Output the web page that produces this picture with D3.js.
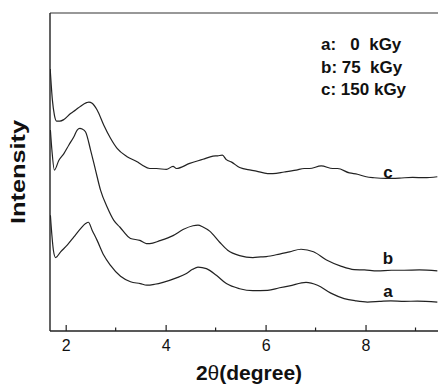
<!DOCTYPE html>
<html>
<head>
<meta charset="utf-8">
<script src="https://cdn.jsdelivr.net/npm/d3@7"></script>
<style>
  body { margin: 0; background: #fff; }
  svg { display: block; font-family: "Liberation Sans", Arial, sans-serif; }
  .axis path, .axis line { stroke: #222; }
  .trace { fill: none; stroke: #222; stroke-width: 1.2; }
</style>
</head>
<body>
<div id="chart"></div>
<script>
// ------------------------------------------
//  Data
// ------------------------------------------
const seriesKeys = ['a', 'b', 'c']
const legendLabels = ['a:   0  kGy', 'b: 75  kGy', 'c: 150 kGy']
const xTicks = [2, 4, 6, 8]
const xMinorTicks = [3, 5, 7, 9]

// 2theta (degree), intensity (a.u., curves stacked)
const curveA = [
  [1.694, 36.4], [1.724, 30.1], [1.754, 25.4], [1.798, 23.1], [1.898, 24.9], [2.030, 27.0],
  [2.164, 29.6], [2.298, 32.2], [2.398, 33.8], [2.454, 34.2], [2.529, 31.7], [2.629, 28.5],
  [2.763, 23.8], [2.893, 20.7], [3.097, 17.2], [3.297, 15.5], [3.493, 14.9], [3.622, 14.4],
  [3.782, 14.7], [3.948, 15.3], [4.216, 16.7], [4.416, 18.1], [4.541, 19.4], [4.647, 20.1],
  [4.815, 19.6], [5.015, 17.5], [5.215, 14.9], [5.481, 13.3], [5.746, 12.7], [6.040, 12.8],
  [6.280, 13.6], [6.480, 14.2], [6.809, 15.3], [7.039, 14.4], [7.305, 11.9], [7.572, 10.2],
  [7.798, 9.5], [8.038, 9.1], [8.278, 9.3], [8.504, 9.5], [8.777, 9.3], [9.037, 9.4], [9.437, 9.1]
]
const curveB = [
  [1.694, 63.2], [1.724, 56.9], [1.774, 50.6], [1.864, 53.7], [1.964, 55.8], [2.064, 58.5],
  [2.164, 61.1], [2.230, 63.2], [2.284, 63.7], [2.330, 63.5], [2.398, 62.6], [2.498, 56.9],
  [2.597, 50.6], [2.697, 44.3], [2.829, 39.0], [2.963, 34.8], [3.083, 32.7], [3.297, 29.1],
  [3.483, 28.5], [3.616, 27.5], [3.682, 27.5], [3.882, 28.4], [4.148, 30.0], [4.348, 31.9],
  [4.547, 33.1], [4.647, 33.3], [4.747, 32.7], [4.881, 31.4], [5.081, 27.9], [5.241, 25.4],
  [5.481, 23.7], [5.746, 23.1], [5.906, 23.3], [6.014, 23.4], [6.280, 24.2], [6.480, 24.9],
  [6.709, 25.7], [6.959, 24.9], [7.219, 22.3], [7.505, 20.4], [7.772, 19.3], [7.978, 19.2],
  [8.238, 18.9], [8.518, 19.1], [8.771, 19.1], [9.077, 19.2], [9.437, 18.9]
]
const curveC = [
  [1.690, 82.4], [1.734, 72.6], [1.774, 67.9], [1.818, 66.0], [1.884, 66.0], [1.964, 66.5],
  [2.098, 68.4], [2.198, 69.5], [2.298, 70.7], [2.418, 71.8], [2.464, 72.0], [2.529, 71.6],
  [2.629, 69.5], [2.763, 64.7], [2.897, 60.6], [3.029, 57.4], [3.229, 54.8], [3.429, 53.2],
  [3.528, 52.2], [3.682, 51.1], [3.816, 51.1], [4.016, 50.8], [4.148, 51.8], [4.216, 51.1],
  [4.481, 52.7], [4.747, 54.0], [4.947, 55.0], [5.041, 55.1], [5.135, 55.3], [5.215, 53.9],
  [5.321, 53.1], [5.481, 51.4], [5.706, 50.6], [5.814, 50.3], [6.040, 49.5], [6.146, 49.5],
  [6.374, 50.0], [6.613, 50.6], [6.773, 51.1], [6.879, 51.1], [7.113, 51.9], [7.345, 51.1],
  [7.439, 51.1], [7.678, 49.7], [7.838, 49.3], [8.012, 48.5], [8.172, 48.2], [8.412, 48.0],
  [8.677, 48.1], [8.943, 48.3], [9.177, 48.2], [9.437, 48.5]
]
const curves = [curveA, curveB, curveC]

// ------------------------------------------
//  Chart
// ------------------------------------------
const W = 438, H = 385
const margin = { top: 13, right: 0, bottom: 54, left: 50 }
const width = W - margin.left - margin.right
const height = H - margin.top - margin.bottom

const svg = d3.select('#chart').append('svg').attr('width', W).attr('height', H)
const g = svg.append('g').attr('transform', `translate(${margin.left},${margin.top})`)

const x = d3.scaleLinear().domain([1.686, 9.45]).range([0, width])
const y = d3.scaleLinear().domain([0, 100]).range([height, 0])

g.append('clipPath').attr('id', 'clip')
  .append('rect').attr('x', 0).attr('y', -5).attr('width', width).attr('height', height + 5)

const line = d3.line()
  .x(d => x(d[0]))
  .y(d => y(d[1]))
  .curve(d3.curveMonotoneX)

g.append('g').attr('clip-path', 'url(#clip)')
  .selectAll('path').data(curves)
  .enter().append('path')
  .attr('class', 'trace')
  .attr('d', line)

// frame: top line, left axis, bottom axis
g.append('line')
  .attr('x1', 0).attr('x2', width).attr('y1', 0).attr('y2', 0)
  .attr('stroke', '#333').attr('stroke-width', 1.2)
g.append('line')
  .attr('x1', 0).attr('x2', 0).attr('y1', 0).attr('y2', height)
  .attr('stroke', '#222').attr('stroke-width', 1.4)

const xAxis = g.append('g').attr('class', 'axis')
  .attr('transform', `translate(0,${height})`)
  .call(d3.axisBottom(x).tickValues(xTicks).tickSize(-6).tickPadding(8).tickFormat(d3.format('d')))
xAxis.select('.domain').attr('stroke-width', 1.4).attr('d', `M0,0H${width}`)
xAxis.selectAll('.tick text')
  .attr('y', 9).attr('dy', '0.71em')
  .attr('font-size', 16).attr('font-family', '"Liberation Sans", Arial, sans-serif').attr('fill', '#111')
xAxis.selectAll('.tick line').attr('stroke-width', 1.2)

g.append('g').selectAll('line').data(xMinorTicks)
  .enter().append('line')
  .attr('x1', d => x(d)).attr('x2', d => x(d))
  .attr('y1', height).attr('y2', height - 3.5)
  .attr('stroke', '#222').attr('stroke-width', 1.2)

// axis titles
const xTitle = svg.append('text')
  .attr('x', 249).attr('y', 380)
  .attr('text-anchor', 'middle')
  .attr('font-size', 21).attr('font-weight', 'bold').attr('fill', '#111')
xTitle.append('tspan').text('2')
xTitle.append('tspan').attr('font-weight', 'normal').text('θ')
xTitle.append('tspan').text('(degree)')

svg.append('text')
  .attr('transform', 'translate(25,172) rotate(-90)')
  .attr('text-anchor', 'middle')
  .attr('font-size', 21).attr('font-weight', 'bold').attr('fill', '#111')
  .attr('textLength', 104).attr('lengthAdjust', 'spacingAndGlyphs')
  .text('Intensity')

// legend
svg.append('g').selectAll('text').data(legendLabels)
  .enter().append('text')
  .attr('x', 321)
  .attr('y', (d, i) => 50 + i * 22.5)
  .attr('font-size', 17).attr('font-weight', 'bold').attr('fill', '#111')
  .style('white-space', 'pre')
  .text(d => d)

// curve labels
const labelShift = [-4, -6, 0]
g.append('g').selectAll('text').data(seriesKeys)
  .enter().append('text')
  .attr('x', x(8.45))
  .attr('y', (d, i) => y(curves[i][curves[i].length - 4][1]) + labelShift[i])
  .attr('text-anchor', 'middle')
  .attr('font-size', 17).attr('font-weight', 'bold').attr('fill', '#111')
  .text(d => d)
</script>
</body>
</html>
